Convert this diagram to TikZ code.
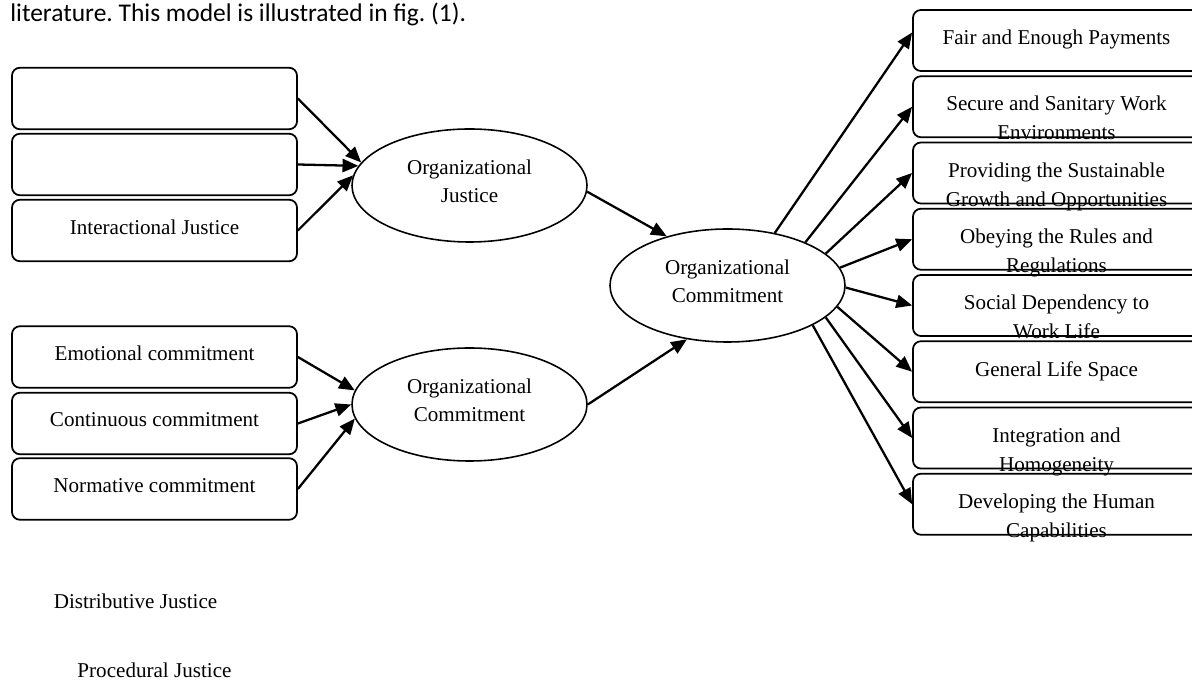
\documentclass[tikz,border=0pt]{standalone}
\usepackage{fontspec}
\setmainfont{Liberation Serif}
\newfontfamily\capfont{Carlito}
\frenchspacing
\usetikzlibrary{shapes.geometric}
\usetikzlibrary{arrows.meta}
\tikzset{
  jbox/.style={draw,line width=1pt,rounded corners=4.5pt,minimum width=5.7cm,minimum height=1.23cm},
  rbox/.style={jbox,minimum width=5.74cm,minimum height=1.22cm},
  ell/.style={draw,line width=0.9pt,ellipse,minimum width=4.7cm,minimum height=2.26cm,align=center,font=\fontsize{12}{16}\selectfont},
  txt/.style={anchor=base,align=center,font=\fontsize{12}{16.5}\selectfont},
  btxt/.style={txt,anchor=north,inner sep=0pt,yshift=-0.41cm},
  arr/.style={line width=1.3pt,-{Triangle[length=9pt,width=7.5pt]}}
}
\begin{document}
\begin{tikzpicture}
\useasboundingbox (0,0) rectangle (23.84,13.6);
\node[anchor=base west,inner sep=0,font=\capfont\fontsize{14.5}{16}\selectfont] (hd) at (0.2,13.16) {literature. This model is illustrated in fig. (1).};

\node[jbox] (b1) at (3.09,11.63) {};
\node[jbox] (b2) at (3.09,10.31) {};
\node[jbox] (b3) at (3.09,8.99) {};
\node[btxt] at (b3.north) {Interactional Justice};
\node[jbox] (b4) at (3.09,6.46) {};
\node[btxt] at (b4.north) {Emotional commitment};
\node[jbox] (b5) at (3.09,5.13) {};
\node[btxt] at (b5.north) {Continuous commitment};
\node[jbox] (b6) at (3.09,3.82) {};
\node[btxt] at (b6.north) {Normative commitment};

\node[ell] (oj) at (9.39,9.89) {Organizational\\Justice\\[-11pt]};
\node[ell] (oc2) at (9.39,5.51) {Organizational\\Commitment\\[-11pt]};
\node[ell] (oc) at (14.55,7.89) {Organizational\\Commitment\\[-11pt]};

\foreach \n/\y/\t in {r1/12.79/{Fair and Enough Payments},r2/11.465/{Secure and Sanitary Work\\Environments},r3/10.14/{Providing the Sustainable\\Growth and Opportunities},r4/8.815/{Obeying the Rules and\\Regulations},r5/7.49/{Social Dependency to\\Work Life},r6/6.165/{General Life Space},r7/4.84/{Integration and\\Homogeneity},r8/3.515/{Developing the Human\\Capabilities}}{
  \node[rbox] (\n) at (21.13,\y) {};
  \node[btxt] at (\n.north) {\t};
}

\draw[arr] (b1.east) -- (oj.168);
\draw[arr] (b2.east) -- (oj.170);
\draw[arr] (b3.east) -- (oj.175);
\draw[arr] (b4.east) -- (oc2.173);
\draw[arr] (b5.east) -- (oc2.180);
\draw[arr] (b6.east) -- (oc2.187);
\draw[arr] (oj.357) -- (oc.141);
\draw[arr] (oc2.east) -- (oc.233);
\draw[arr] (oc.48) -- ([yshift=0.16cm]r1.west);
\foreach \a/\n in {29/r2,18/r3,9/r4,359/r5,349/r6,342/r7,335/r8}
  \draw[arr] (oc.\a) -- (\n.west);

\node[txt] (dj) at (2.71,1.42) {Distributive Justice};
\node[txt] (pj) at (3.09,0.04) {Procedural Justice};
\end{tikzpicture}
\end{document}
